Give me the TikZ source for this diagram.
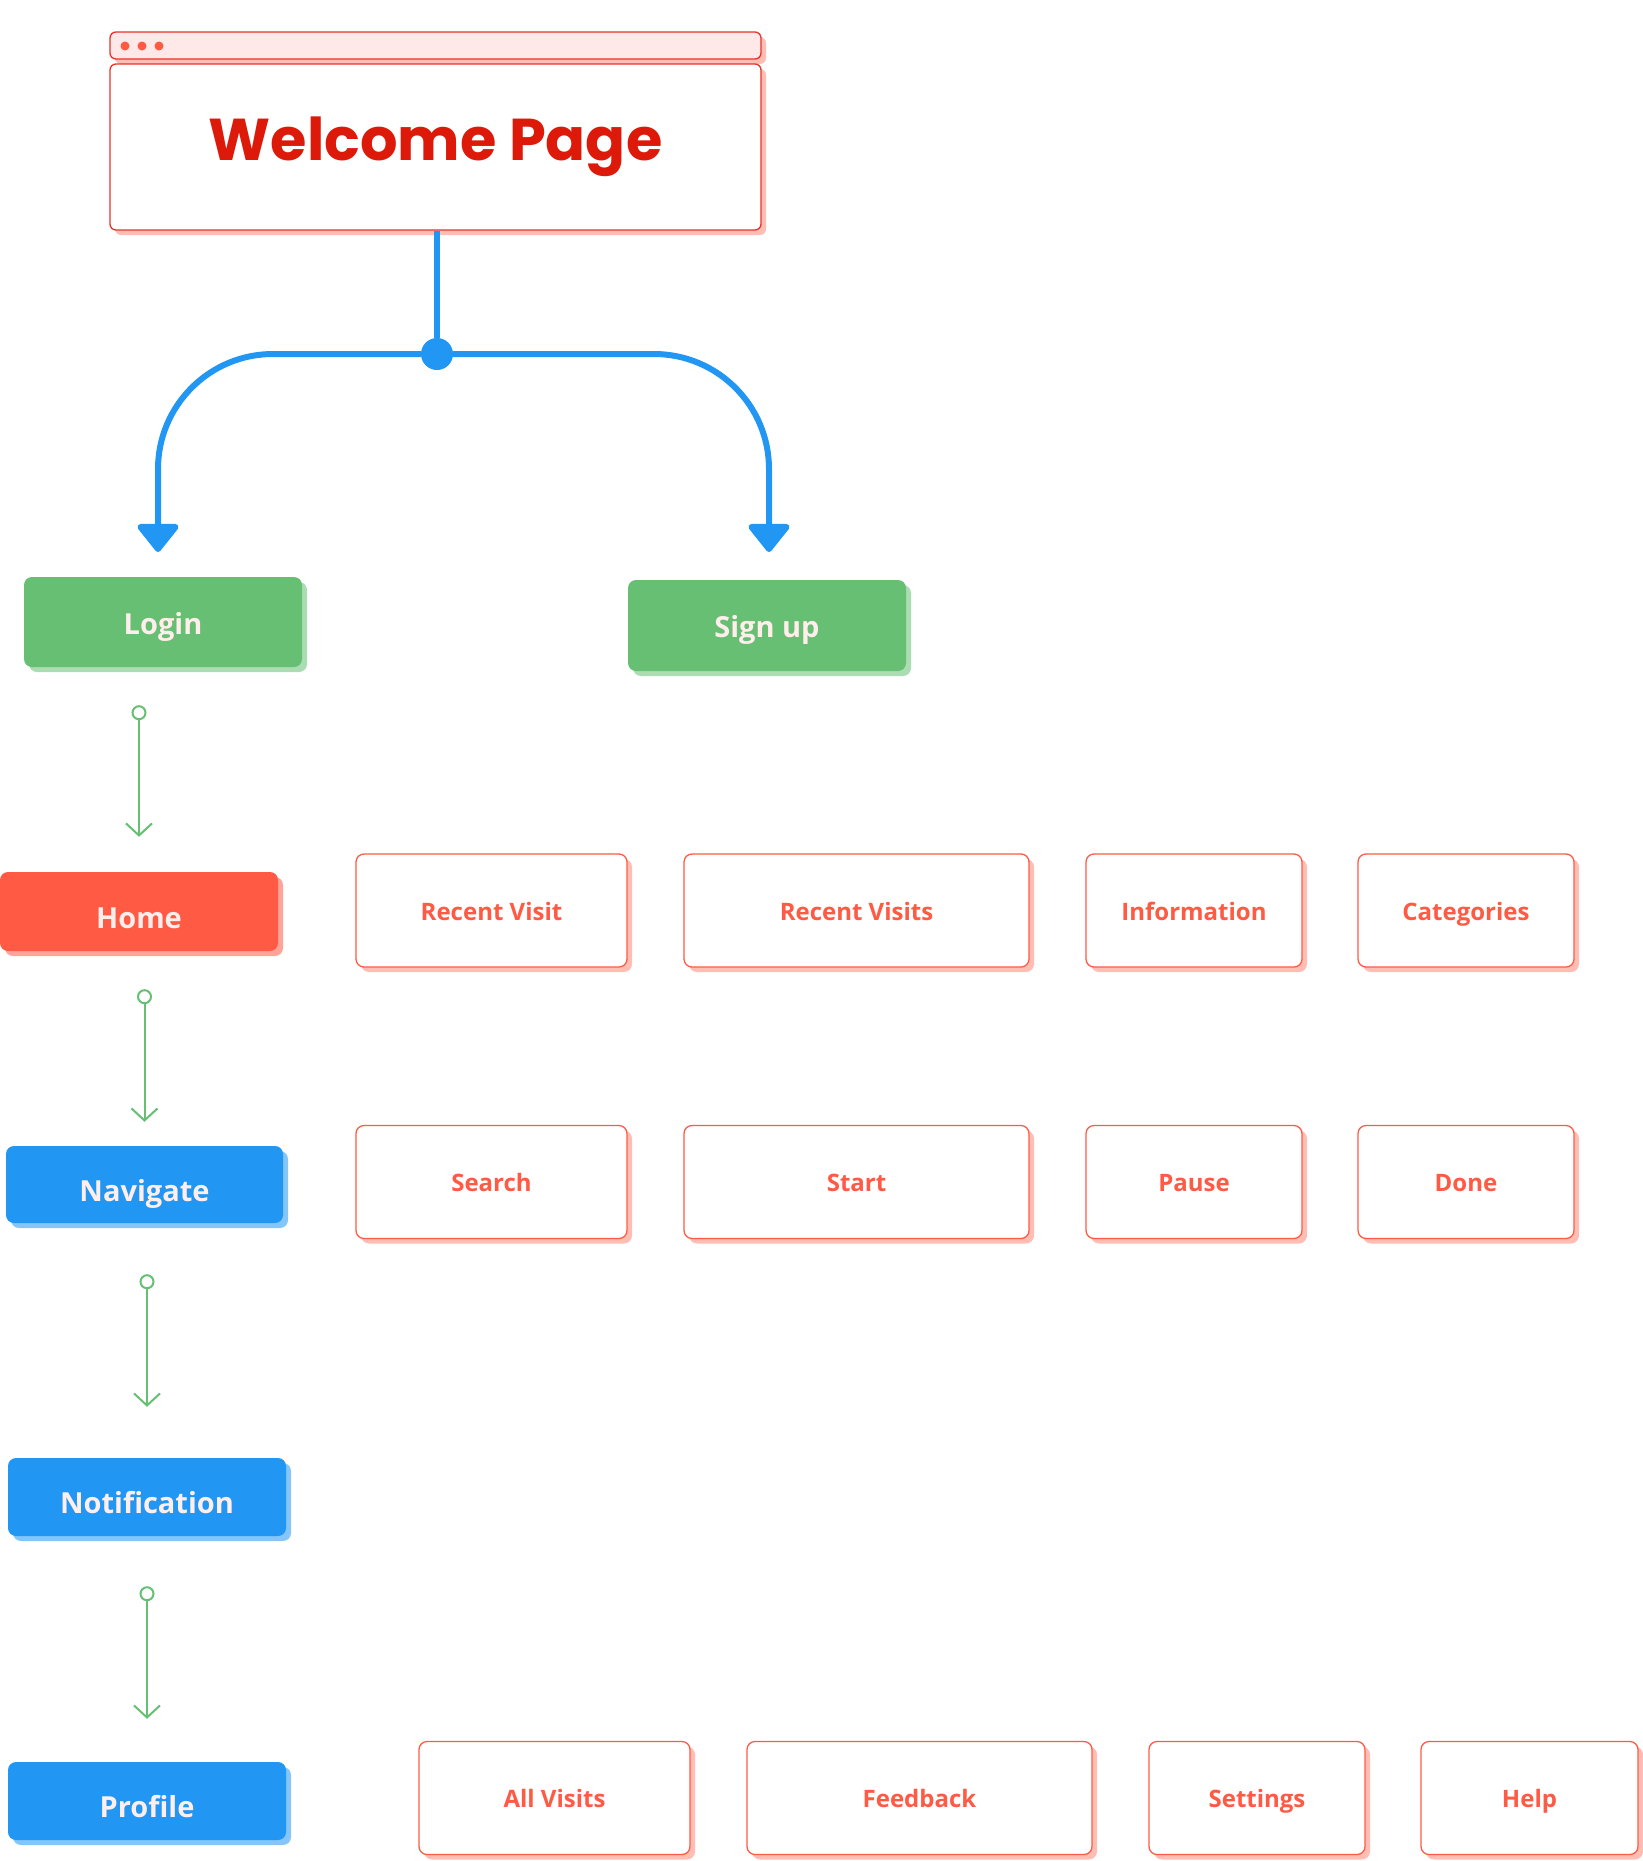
\documentclass[tikz,border=0pt]{standalone}
\usepackage{fontspec}
\setmainfont{Open Sans}
\newfontfamily\titlefont{Poppins}
\usetikzlibrary{arrows.meta,shadows}

\definecolor{wpred}{HTML}{DD1A0A}
\definecolor{winline}{HTML}{E8322A}
\definecolor{winbar}{HTML}{FFE9E8}
\definecolor{coral}{HTML}{FF5A44}
\definecolor{coralshade}{HTML}{FFBDB3}
\definecolor{leaf}{HTML}{66BF73}
\definecolor{sky}{HTML}{2196F3}
\definecolor{paletext}{HTML}{FFEEEB}

\tikzset{
    btn/.style={rectangle, rounded corners=8pt, fill=#1, text=paletext,
        font=\fontsize{29}{34}\selectfont\bfseries, text height=37pt, text depth=4pt,
        general shadow={fill=#1!55, shadow xshift=5pt, shadow yshift=-5pt}},
    optbox/.style={rectangle, rounded corners=8pt, draw=coral, line width=1.3pt,
        fill=white, text=coral, minimum height=113pt,
        font=\fontsize{24}{28}\selectfont\bfseries, text height=24pt, text depth=5pt,
        general shadow={fill=coralshade, shadow xshift=5pt, shadow yshift=-5pt}},
    winpart/.style={rectangle, rounded corners=6pt, draw=winline, line width=1.3pt,
        general shadow={fill=coralshade, shadow xshift=5pt, shadow yshift=-5pt}},
    bline/.style={draw=sky, line width=6pt},
    gline/.style={draw=leaf, line width=2pt,
        {Circle[open,length=15pt,width=15pt]}-{Straight Barb[length=12pt,width=26pt]}}
}

\begin{document}
\begin{tikzpicture}[x=1pt, y=-1pt]
	\useasboundingbox (0,0) rectangle (1643,1861);

	% browser window
	\node (bar) [winpart, fill=winbar, minimum width=651pt, minimum height=27pt] at (435.5, 45.5) {};
	\node (welcome) [winpart, fill=white, minimum width=651pt, minimum height=166pt,
		text=wpred, font=\titlefont\fontsize{59}{68}\selectfont\bfseries] at (435.5, 147) {Welcome Page};
	\foreach \dx in {125,142,159} \fill[coral] (\dx, 46) circle (4.5pt);

	% blue fork
	\node (fork) [circle, fill=sky, minimum size=32pt, inner sep=0pt] at (437, 354) {};
	\coordinate (loginend) at (158, 552);
	\coordinate (signend) at (769, 552);
	\draw[bline] (welcome.south -| fork) -- (fork);
	\draw[bline, rounded corners=115pt, -{Triangle[length=30pt,width=46pt,round]}] (fork) -| (loginend);
	\draw[bline, rounded corners=115pt, -{Triangle[length=30pt,width=46pt,round]}] (fork) -| (signend);

	% main column
	\node (login) [btn=leaf, text height=28pt, minimum width=278pt, minimum height=90pt] at (163, 622) {Login};
	\node (signup) [btn=leaf, text height=28pt, minimum width=278pt, minimum height=91pt] at (767, 625.5) {Sign up};
	\node (home) [btn=coral, minimum width=278pt, minimum height=79pt] at (139, 911.5) {Home};
	\node (navigate) [btn=sky, minimum width=277pt, minimum height=77pt] at (144.5, 1184.5) {Navigate};
	\node (notification) [btn=sky, minimum width=278pt, minimum height=78pt] at (147, 1497) {Notification};
	\node (profile) [btn=sky, minimum width=278pt, minimum height=78pt] at (147, 1801) {Profile};

	\draw[gline, shorten <=38pt, shorten >=35pt] (login.south -| home.north) -- (home.north);
	\draw[gline, shorten <=38pt, shorten >=24pt] (home.south -| navigate.north) -- (navigate.north);
	\draw[gline, shorten <=51pt, shorten >=51pt] (navigate.south -| notification.north) -- (notification.north);
	\draw[gline, shorten <=50pt, shorten >=43pt] (notification.south -| profile.north) -- (profile.north);

	% home options
	\node (recent) [optbox, minimum width=271pt] at (491.5, 910.5) {Recent Visit};
	\node (recents) [optbox, minimum width=345pt] at (856.5, 910.5) {Recent Visits};
	\node (info) [optbox, minimum width=216pt] at (1194, 910.5) {Information};
	\node (cats) [optbox, minimum width=216pt] at (1466, 910.5) {Categories};

	% navigate options
	\node (search) [optbox, minimum width=271pt] at (491.5, 1182) {Search};
	\node (start) [optbox, minimum width=345pt] at (856.5, 1182) {Start};
	\node (pause) [optbox, minimum width=216pt] at (1194, 1182) {Pause};
	\node (done) [optbox, minimum width=216pt] at (1466, 1182) {Done};

	% profile options
	\node (allvisits) [optbox, minimum width=271pt] at (554.5, 1798) {All Visits};
	\node (feedback) [optbox, minimum width=345pt] at (919.5, 1798) {Feedback};
	\node (settings) [optbox, minimum width=216pt] at (1257, 1798) {Settings};
	\node (help) [optbox, minimum width=217pt] at (1529.5, 1798) {Help};
\end{tikzpicture}
\end{document}
